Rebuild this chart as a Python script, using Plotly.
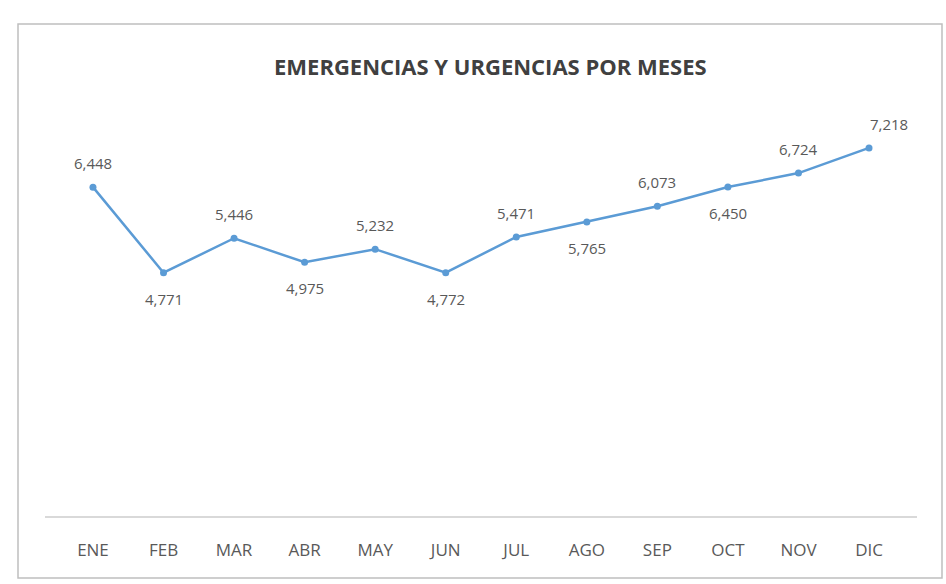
import plotly.graph_objects as go

# Monthly emergency / urgent-care counts
months = ["ENE", "FEB", "MAR", "ABR", "MAY", "JUN", "JUL", "AGO", "SEP", "OCT", "NOV", "DIC"]
visits = [6448, 4771, 5446, 4975, 5232, 4772, 5471, 5765, 6073, 6450, 6724, 7218]
# +1 = label above the point, -1 = label below
label_side = [1, -1, 1, -1, 1, -1, 1, -1, 1, -1, 1, 1]

W, H = 946, 584
ML, MR, MT, MB = 45, 29, 108, 68
FONT = "Open Sans, sans-serif"


def px_x(p):
    return (p - ML) / (W - ML - MR)


def px_y(p):
    return (H - MB - p) / (H - MT - MB)


fig = go.Figure()
fig.add_trace(go.Scatter(
    x=months,
    y=visits,
    mode="lines+markers",
    line=dict(color="#5B9BD5", width=2.5),
    marker=dict(color="#5B9BD5", size=7, symbol="circle"),
    hoverinfo="skip",
))

# value labels, alternating above / below the line
annotations = []
for i, (m, v, s) in enumerate(zip(months, visits, label_side)):
    annotations.append(dict(
        x=m, y=v, xref="x", yref="y",
        text=f"{v:,}",
        showarrow=False,
        xanchor="center", yanchor="middle",
        yshift=24 if s > 0 else -26,
        xshift=20 if i == len(months) - 1 else 0,
        font=dict(family=FONT, size=15, color="#595959"),
    ))

annotations.append(dict(
    text="<b>EMERGENCIAS Y URGENCIAS POR MESES</b>",
    x=px_x(490), y=px_y(66),
    xref="paper", yref="paper",
    xanchor="center", yanchor="middle",
    showarrow=False,
    font=dict(family=FONT, size=22, color="#404040"),
))

fig.update_layout(
    width=W,
    height=H,
    margin=dict(l=ML, r=MR, t=MT, b=MB),
    paper_bgcolor="white",
    plot_bgcolor="white",
    showlegend=False,
    font=dict(family=FONT, color="#595959"),
    xaxis=dict(
        type="category",
        showgrid=False,
        showline=True,
        linecolor="#D9D9D9",
        linewidth=1.5,
        ticks="",
        tickfont=dict(size=17, color="#595959"),
        ticklabelstandoff=18,
        zeroline=False,
    ),
    yaxis=dict(
        range=[0, 8000],
        showgrid=False,
        showline=False,
        showticklabels=False,
        zeroline=False,
    ),
    annotations=annotations,
    shapes=[dict(
        type="rect",
        xref="paper", yref="paper",
        x0=px_x(18), x1=px_x(942), y0=px_y(24), y1=px_y(578),
        line=dict(color="#BFBFBF", width=1.5),
        fillcolor="rgba(0,0,0,0)",
        layer="below",
    )],
)

fig.write_html("out.html")
